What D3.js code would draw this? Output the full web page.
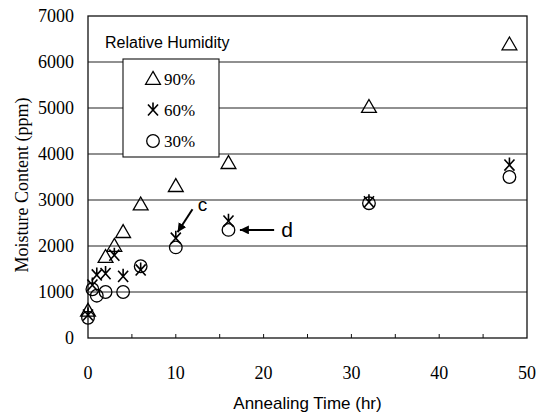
<!DOCTYPE html>
<html>
<head>
<meta charset="utf-8">
<script src="https://cdn.jsdelivr.net/npm/d3@7"></script>
<style>
  body { margin: 0; background: #fff; }
</style>
</head>
<body>
<div id="chart"></div>
<script>
var svgWidth = 540;
var svgHeight = 414;

var margin = { top: 16, right: 13, bottom: 76, left: 88 };
var width = svgWidth - margin.left - margin.right;
var height = svgHeight - margin.top - margin.bottom;

var SERIF = "'Liberation Serif', 'Times New Roman', serif";
var SANS = "'Liberation Sans', Arial, sans-serif";

// data
var time90 = [0, 2, 3, 4, 6, 10, 16, 32, 48];
var rh90 = [590, 1760, 2000, 2300, 2900, 3300, 3800, 5020, 6380];

var time60 = [0, 0.5, 1, 2, 3, 4, 6, 10, 16, 32, 48];
var rh60 = [500, 1150, 1370, 1400, 1800, 1340, 1480, 2170, 2540, 2960, 3760];

var time30 = [0, 0.5, 1, 2, 4, 6, 10, 16, 32, 48];
var rh30 = [440, 1060, 920, 1000, 1000, 1560, 1970, 2350, 2930, 3500];

var xTicks = [0, 10, 20, 30, 40, 50];
var yTicks = [0, 1000, 2000, 3000, 4000, 5000, 6000, 7000];
var legendLabels = ["90%", "60%", "30%"];

var svg = d3.select("#chart")
  .append("svg")
  .attr("width", svgWidth)
  .attr("height", svgHeight);

var chartGroup = svg.append("g")
  .attr("transform", `translate(${margin.left}, ${margin.top})`);

var x = d3.scaleLinear().domain([0, 50]).range([0, width]);
var y = d3.scaleLinear().domain([0, 7000]).range([height, 0]);

// gridlines
chartGroup.selectAll(".grid")
  .data(yTicks.filter(d => d > 0 && d < 7000))
  .enter()
  .append("line")
  .attr("x1", 0)
  .attr("x2", width)
  .attr("y1", d => y(d))
  .attr("y2", d => y(d))
  .attr("stroke", "#222")
  .attr("stroke-width", 1.1);

// frame
chartGroup.append("rect")
  .attr("width", width)
  .attr("height", height)
  .attr("fill", "none")
  .attr("stroke", "#111")
  .attr("stroke-width", 1.3);

// minor ticks along the bottom
chartGroup.selectAll(".xtick")
  .data(d3.range(5, 50, 5))
  .enter()
  .append("line")
  .attr("x1", d => x(d))
  .attr("x2", d => x(d))
  .attr("y1", height)
  .attr("y2", height - 4)
  .attr("stroke", "#111");

// tick labels
chartGroup.selectAll(".ylab")
  .data(yTicks)
  .enter()
  .append("text")
  .attr("font-family", SERIF)
  .attr("font-size", 18)
  .attr("x", -14)
  .attr("y", d => y(d) + 6)
  .attr("text-anchor", "end")
  .text(d => d);

chartGroup.selectAll(".xlab")
  .data(xTicks)
  .enter()
  .append("text")
  .attr("font-family", SERIF)
  .attr("font-size", 18)
  .attr("x", d => x(d))
  .attr("y", height + 41)
  .attr("text-anchor", "middle")
  .text(d => d);

// axis titles
chartGroup.append("text")
  .attr("font-family", SERIF)
  .attr("font-size", 18)
  .attr("transform", "rotate(-90)")
  .attr("x", 0 - (height / 2) - 8)
  .attr("y", -60)
  .attr("text-anchor", "middle")
  .text("Moisture Content (ppm)");

chartGroup.append("text")
  .attr("font-family", SANS)
  .attr("font-size", 17)
  .attr("x", width / 2)
  .attr("y", height + 71)
  .attr("text-anchor", "middle")
  .text("Annealing Time (hr)");

// markers
var tri = d3.symbol().type(d3.symbolTriangle).size(95);

function starPath(r) {
  var p = d3.path();
  var a = 48 * Math.PI / 180;
  var dx = r * Math.cos(a), dy = r * Math.sin(a);
  p.moveTo(0, -r); p.lineTo(0, 0);
  p.moveTo(-dx, -dy); p.lineTo(dx, dy);
  p.moveTo(dx, -dy); p.lineTo(-dx, dy);
  return p.toString();
}

function drawTri(g, px, py) {
  g.append("path")
    .attr("d", tri())
    .attr("transform", `translate(${px}, ${py + 1})`)
    .attr("fill", "none")
    .attr("stroke", "#000")
    .attr("stroke-width", 1.3);
}
function drawStar(g, px, py) {
  g.append("path")
    .attr("d", starPath(7.5))
    .attr("transform", `translate(${px}, ${py})`)
    .attr("fill", "none")
    .attr("stroke", "#000")
    .attr("stroke-width", 1.6);
}
function drawCircle(g, px, py) {
  g.append("circle")
    .attr("cx", px)
    .attr("cy", py)
    .attr("r", 6.3)
    .attr("fill", "none")
    .attr("stroke", "#000")
    .attr("stroke-width", 1.3);
}

var points = chartGroup.append("g");
time30.forEach((t, i) => drawCircle(points, x(t), y(rh30[i])));
time60.forEach((t, i) => drawStar(points, x(t), y(rh60[i])));
time90.forEach((t, i) => drawTri(points, x(t), y(rh90[i])));

// legend
chartGroup.append("text")
  .attr("font-family", SANS)
  .attr("font-size", 16)
  .attr("x", 17)
  .attr("y", 32)
  .text("Relative Humidity");

var legend = chartGroup.append("g").attr("transform", "translate(35, 43)");
legend.append("rect")
  .attr("width", 96)
  .attr("height", 98)
  .attr("fill", "#fff")
  .attr("stroke", "#111")
  .attr("stroke-width", 1.1);

var drawers = [drawTri, drawStar, drawCircle];
legendLabels.forEach(function(lab, i) {
  var ly = 20 + i * 31;
  drawers[i](legend, 30, ly);
  legend.append("text")
    .attr("font-family", SERIF)
    .attr("font-size", 17)
    .attr("x", 41)
    .attr("y", ly + 6)
    .text(lab);
});

// annotations
svg.append("defs").append("marker")
  .attr("id", "head")
  .attr("viewBox", "0 0 10 10")
  .attr("refX", 10)
  .attr("refY", 5)
  .attr("markerWidth", 4.5)
  .attr("markerHeight", 4.5)
  .attr("markerUnits", "strokeWidth")
  .attr("orient", "auto")
  .append("path")
  .attr("d", "M0,0 L10,5 L0,10 Z")
  .attr("fill", "#000");

chartGroup.append("line")
  .attr("x1", x(11.9))
  .attr("y1", y(2800))
  .attr("x2", x(10.2))
  .attr("y2", y(2300))
  .attr("stroke", "#000")
  .attr("stroke-width", 2)
  .attr("marker-end", "url(#head)");

chartGroup.append("text")
  .attr("font-family", SANS)
  .attr("font-size", 19)
  .attr("x", x(12.5))
  .attr("y", y(2770))
  .text("c");

chartGroup.append("line")
  .attr("x1", x(21.2))
  .attr("y1", y(2350))
  .attr("x2", x(17.3))
  .attr("y2", y(2350))
  .attr("stroke", "#000")
  .attr("stroke-width", 2)
  .attr("marker-end", "url(#head)");

chartGroup.append("text")
  .attr("font-family", SANS)
  .attr("font-size", 21)
  .attr("x", x(22.0))
  .attr("y", y(2350) + 7)
  .text("d");
</script>
</body>
</html>
